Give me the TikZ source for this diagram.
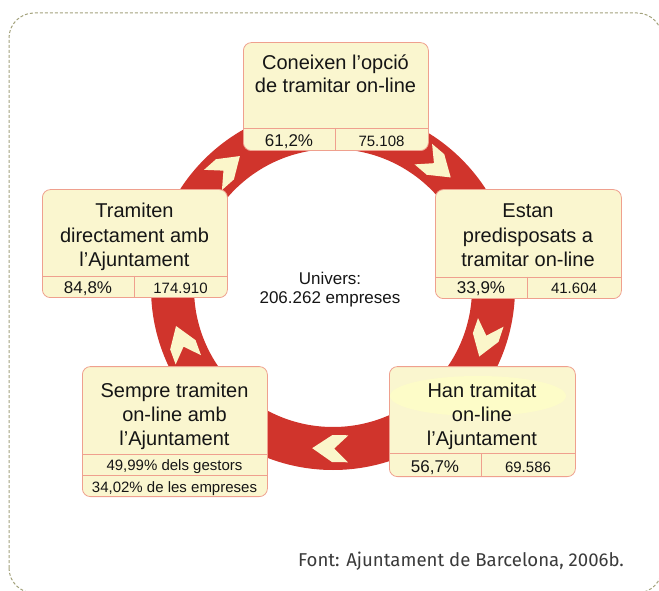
\documentclass[tikz,border=0pt]{standalone}
\usepackage{fontspec}
\setmainfont{Liberation Sans}
\newfontfamily\footfont{Fira Sans}
\usetikzlibrary{calc}
\definecolor{ringred}{HTML}{D0342C}
\definecolor{boxfill}{HTML}{FAF6CF}
\definecolor{boxline}{HTML}{EFA08E}
\definecolor{chevcol}{HTML}{FBF6CA}
\definecolor{framec}{HTML}{A3A27C}
\definecolor{hilite}{HTML}{FDFCC8}
\definecolor{txt}{HTML}{151515}
\definecolor{footc}{HTML}{3A3A3A}
\begin{document}
\begin{tikzpicture}[x=1pt,y=1pt,
  box/.style={draw=boxline, fill=boxfill, line width=0.8pt, rounded corners=8pt, inner sep=0pt, anchor=south west},
  divline/.style={draw=boxline, line width=0.8pt},
  title/.style={anchor=base, inner sep=0pt, font=\fontsize{20}{23}\selectfont, text=txt},
  big/.style={anchor=base, inner sep=0pt, font=\fontsize{17}{20}\selectfont, text=txt},
  small/.style={anchor=base, inner sep=0pt, font=\fontsize{15}{17}\selectfont, text=txt},
  chev/.pic={\fill[chevcol] (18,0)--(-2,13.5)--(-18,13.5)--(-4,0)--(-18,-13.5)--(-2,-13.5)--cycle;}
]
\useasboundingbox (0,0) rectangle (659,590);
\clip (0,0) rectangle (659,590);
% frame
\draw[framec, line width=1pt, dash pattern=on 3pt off 2pt, rounded corners=25pt] (9,-3) rectangle (662,577);
% ring
\coordinate (c) at (333,302);
\fill[ringred, even odd rule] (c) circle (182) (c) circle (139);
\foreach \a in {131.6,49.6,-18.7,-91,200}{
  \pic[rotate=\a-90] at ($(c)+(\a:160.5)$) {chev};
}
% boxes
\node[box, minimum width=185pt, minimum height=108pt] (topbox) at (243,439) {};
\draw[divline] (243,462) -- (428,462) (335,462) -- (335,439);
\node[box, minimum width=185pt, minimum height=108pt] (leftbox) at (42,292) {};
\draw[divline] (42,314) -- (227,314) (134,314) -- (134,292);
\node[box, minimum width=186pt, minimum height=109pt] (rightbox) at (435,291) {};
\draw[divline] (435,313) -- (621,313) (527,313) -- (527,291);
\node[box, minimum width=185pt, minimum height=130pt] (blbox) at (82,93) {};
\draw[divline] (82,136) -- (267,136) (82,115) -- (267,115);
\node[box, minimum width=186pt, minimum height=110pt] (brbox) at (389,113) {};
\fill[hilite] (478,194) ellipse (88 and 20);
\draw[divline] (389,137) -- (575,137) (481,137) -- (481,113);
% texts
\node[title] (t1a) at (335.5,520) {Coneixen l’opció};
\node[title] (t1b) at (335.5,497) {de tramitar on-line};
\node[big] (t1c) at (289,443.5) {61,2\%};
\node[small] (t1d) at (381.5,443.5) {75.108};
\node[title] (t2a) at (134.5,372) {Tramiten};
\node[title] (t2b) at (134.5,347.5) {directament amb};
\node[title] (t2c) at (134.5,323) {l’Ajuntament};
\node[big] (t2d) at (88,296) {84,8\%};
\node[small] (t2e) at (180.5,296) {174.910};
\node[title] (t3a) at (528,372) {Estan};
\node[title] (t3b) at (528,347.5) {predisposats a};
\node[title] (t3c) at (528,323) {tramitar on-line};
\node[big] (t3d) at (481,296) {33,9\%};
\node[small] (t3e) at (574,296) {41.604};
\node[title] (t4a) at (174.5,193) {Sempre tramiten};
\node[title] (t4b) at (174.5,168.5) {on-line amb};
\node[title] (t4c) at (174.5,145) {l’Ajuntament};
\node[small] (t4d) at (174.5,119.5) {49,99\% dels gestors};
\node[small] (t4e) at (174.5,98) {34,02\% de les empreses};
\node[title] (t5a) at (482,193) {Han tramitat};
\node[title] (t5b) at (482,168.5) {on-line};
\node[title] (t5c) at (482,145) {l’Ajuntament};
\node[big] (t5d) at (435,118) {56,7\%};
\node[small] (t5e) at (528,118) {69.586};
\node[big] (u1) at (330,305) {Univers:};
\node[big] (u2) at (330,286) {206.262 empreses};
\node[anchor=base west, inner sep=0pt, font=\footfont\fontsize{18.6}{22}\selectfont, text=footc] (src) at (298,24) {Font: Ajuntament de Barcelona, 2006b.};
\end{tikzpicture}
\end{document}
